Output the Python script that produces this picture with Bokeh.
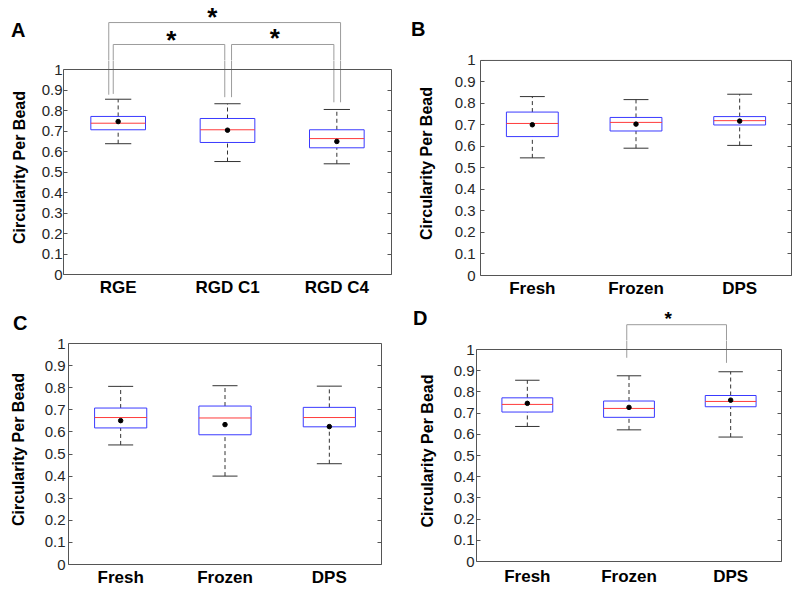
from bokeh.plotting import figure
from bokeh.models import Range1d, LinearAxis, FixedTicker, Span
from bokeh.layouts import row, column
from bokeh.embed import file_html
from bokeh.resources import INLINE
from bokeh.core.properties import value

FONT = "Liberation Sans"

# ---------------- data ----------------
y_ticks = [0, 0.1, 0.2, 0.3, 0.4, 0.5, 0.6, 0.7, 0.8, 0.9, 1]
y_tick_labels = ["0", "0.1", "0.2", "0.3", "0.4", "0.5", "0.6", "0.7", "0.8", "0.9", "1"]
y_title = "Circularity Per Bead"

# Panel A
cats_A = ["RGE", "RGD C1", "RGD C4"]
A_lo = [0.638, 0.551, 0.540]
A_q1 = [0.706, 0.644, 0.618]
A_med = [0.738, 0.706, 0.663]
A_q3 = [0.771, 0.761, 0.706]
A_hi = [0.855, 0.833, 0.805]
A_mean = [0.746, 0.704, 0.649]

# Panel B
cats_B = ["Fresh", "Frozen", "DPS"]
B_lo = [0.547, 0.592, 0.605]
B_q1 = [0.646, 0.672, 0.700]
B_med = [0.707, 0.712, 0.720]
B_q3 = [0.760, 0.735, 0.739]
B_hi = [0.832, 0.818, 0.843]
B_mean = [0.701, 0.704, 0.718]

# Panel C
cats_C = ["Fresh", "Frozen", "DPS"]
C_lo = [0.541, 0.400, 0.456]
C_q1 = [0.618, 0.587, 0.623]
C_med = [0.665, 0.663, 0.665]
C_q3 = [0.708, 0.717, 0.711]
C_hi = [0.806, 0.809, 0.807]
C_mean = [0.651, 0.633, 0.624]

# Panel D
cats_D = ["Fresh", "Frozen", "DPS"]
D_lo = [0.637, 0.621, 0.587]
D_q1 = [0.705, 0.680, 0.730]
D_med = [0.741, 0.722, 0.755]
D_q3 = [0.772, 0.757, 0.783]
D_hi = [0.855, 0.876, 0.895]
D_mean = [0.746, 0.727, 0.761]

# significance brackets: (x_left, x_right, y_top, y_bottom_left, y_bottom_right)
brackets_A = [
    (0.914, 3.034, 1.229, 0.877, 0.840),
    (0.955, 1.975, 1.122, 0.881, 0.865),
    (2.037, 2.973, 1.122, 0.865, 0.840),
]
stars_A = [(1.860, 1.272), (1.485, 1.158), (2.433, 1.166)]
brackets_D = [(1.978, 2.959, 1.117, 0.961, 0.937)]
stars_D = [(2.386, 1.150)]

COL_W = 400
T = 9  # extra frame room above y = 1 so that the "1" tick label is not cut
FRAME_C = "#555555"
BOX_C = "#3a3aff"
MED_C = "#ff3b3b"
WHISK_C = "#333333"
BRACKET_C = "#9c9c9c"


def build(cats, lo, q1, med, q3, hi, mean, letter, letter_y, letter_standoff,
          L, R, H, Fh, Bb, tick_standoff, title_standoff, cat_standoff,
          brackets=(), stars=(), star_size=26):
    pos = [1, 2, 3]
    bw = 0.25   # half box width
    cw = 0.12   # half cap width
    ytop = 1 + T / Fh

    main = figure(width=COL_W, height=T + Fh + Bb,
                  x_range=Range1d(0.5, 3.5), y_range=Range1d(0, ytop),
                  min_border_left=L, min_border_right=R,
                  min_border_top=0, min_border_bottom=Bb,
                  output_backend="svg", toolbar_location=None, tools="")
    main.xgrid.visible = False
    main.ygrid.visible = False
    main.outline_line_color = None
    main.background_fill_color = "white"
    main.border_fill_color = "white"

    yax = main.yaxis[0]
    yax.bounds = (0, 1)
    yax.ticker = FixedTicker(ticks=y_ticks, minor_ticks=[])
    yax.major_label_overrides = dict(zip(y_ticks, y_tick_labels))
    yax.major_tick_in = 4
    yax.major_tick_out = 0
    yax.major_tick_line_color = FRAME_C
    yax.minor_tick_line_color = None
    yax.axis_line_color = FRAME_C
    yax.major_label_text_font = FONT
    yax.major_label_text_font_size = "15px"
    yax.major_label_text_color = "#262626"
    yax.major_label_standoff = tick_standoff
    yax.axis_label = y_title
    yax.axis_label_text_font = FONT
    yax.axis_label_text_font_style = "bold"
    yax.axis_label_text_font_size = "16px"
    yax.axis_label_text_color = "black"
    yax.axis_label_standoff = title_standoff

    rax = LinearAxis(ticker=FixedTicker(ticks=y_ticks, minor_ticks=[]), bounds=(0, 1),
                     major_label_overrides={t: "" for t in y_ticks},
                     major_label_text_color=None, major_label_standoff=0,
                     major_tick_in=4, major_tick_out=0,
                     major_tick_line_color=FRAME_C, minor_tick_line_color=None,
                     axis_line_color=FRAME_C)
    main.add_layout(rax, "right")

    xax = main.xaxis[0]
    xax.ticker = FixedTicker(ticks=pos, minor_ticks=[])
    xax.major_label_overrides = dict(zip(pos, cats))
    xax.major_tick_line_color = None
    xax.major_tick_in = 0
    xax.major_tick_out = 0
    xax.minor_tick_line_color = None
    xax.axis_line_color = FRAME_C
    xax.major_label_text_font = FONT
    xax.major_label_text_font_style = "bold"
    xax.major_label_text_font_size = "17px"
    xax.major_label_text_color = "black"
    xax.major_label_standoff = cat_standoff

    # top edge of the axes box at y = 1
    main.add_layout(Span(location=1, dimension="width", line_color=FRAME_C, line_width=1))

    # whiskers (dashed) and caps
    main.segment(x0=pos, y0=q3, x1=pos, y1=hi, line_color=WHISK_C, line_dash="4 3", line_width=1)
    main.segment(x0=pos, y0=lo, x1=pos, y1=q1, line_color=WHISK_C, line_dash="4 3", line_width=1)
    main.segment(x0=[p - cw for p in pos], y0=hi, x1=[p + cw for p in pos], y1=hi,
                 line_color=WHISK_C, line_width=1)
    main.segment(x0=[p - cw for p in pos], y0=lo, x1=[p + cw for p in pos], y1=lo,
                 line_color=WHISK_C, line_width=1)
    # boxes
    main.quad(left=[p - bw for p in pos], right=[p + bw for p in pos], bottom=q1, top=q3,
              fill_alpha=0, line_color=BOX_C, line_width=1)
    # medians
    main.segment(x0=[p - bw for p in pos], y0=med, x1=[p + bw for p in pos], y1=med,
                 line_color=MED_C, line_width=1)
    # means
    main.scatter(x=pos, y=mean, size=4.5, color="black")

    # header strip above (brackets, stars, panel letter)
    header = figure(width=COL_W, height=H,
                    x_range=main.x_range,
                    y_range=Range1d(ytop, ytop + H / Fh),
                    min_border_left=L, min_border_right=R,
                    min_border_top=0, min_border_bottom=0,
                    x_axis_location=None,
                    output_backend="svg", toolbar_location=None, tools="")
    header.xgrid.visible = False
    header.ygrid.visible = False
    header.outline_line_color = None
    header.border_fill_color = "white"
    hax = header.yaxis[0]
    hax.ticker = FixedTicker(ticks=[letter_y], minor_ticks=[])
    hax.major_label_overrides = {letter_y: letter}
    hax.major_tick_line_color = None
    hax.major_tick_in = 0
    hax.major_tick_out = 0
    hax.minor_tick_line_color = None
    hax.axis_line_color = None
    hax.major_label_text_font = FONT
    hax.major_label_text_font_style = "bold"
    hax.major_label_text_font_size = "20px"
    hax.major_label_text_color = "black"
    hax.major_label_standoff = letter_standoff

    for (xl, xr, yt, ybl, ybr) in brackets:
        for fig in (main, header):
            fig.line(x=[xl, xl, xr, xr], y=[ybl, yt, yt, ybr],
                     line_color=BRACKET_C, line_width=1)
    if stars:
        header.text(x=[s[0] for s in stars], y=[s[1] for s in stars],
                    text=["*"] * len(stars),
                    text_font=value(FONT), text_font_style="bold",
                    text_font_size=f"{star_size}px", text_color="black",
                    text_align="center", text_baseline="middle",
                    y_offset=round(0.23 * star_size) - 3)

    return column(header, main, spacing=0)


pA = build(cats_A, A_lo, A_q1, A_med, A_q3, A_hi, A_mean, "A", 1.192, 38,
           L=63, R=9, H=69 - T, Fh=205, Bb=26, tick_standoff=1, title_standoff=11, cat_standoff=3,
           brackets=brackets_A, stars=stars_A, star_size=26)
pB = build(cats_B, B_lo, B_q1, B_med, B_q3, B_hi, B_mean, "B", 1.147, 55,
           L=80, R=9, H=60 - T, Fh=216, Bb=24, tick_standoff=5, title_standoff=17, cat_standoff=3)
pC = build(cats_C, C_lo, C_q1, C_med, C_q3, C_hi, C_mean, "C", 1.093, 41,
           L=68, R=19, H=43 - T, Fh=221, Bb=30, tick_standoff=3, title_standoff=15, cat_standoff=3)
pD = build(cats_D, D_lo, D_q1, D_med, D_q3, D_hi, D_mean, "D", 1.149, 49,
           L=76, R=19, H=49 - T, Fh=212, Bb=33, tick_standoff=2, title_standoff=15, cat_standoff=5,
           brackets=brackets_D, stars=stars_D, star_size=19)

layout = column(row(pA, pB, spacing=0), row(pC, pD, spacing=0), spacing=0)

open("out.html", "w").write(file_html(layout, INLINE))
